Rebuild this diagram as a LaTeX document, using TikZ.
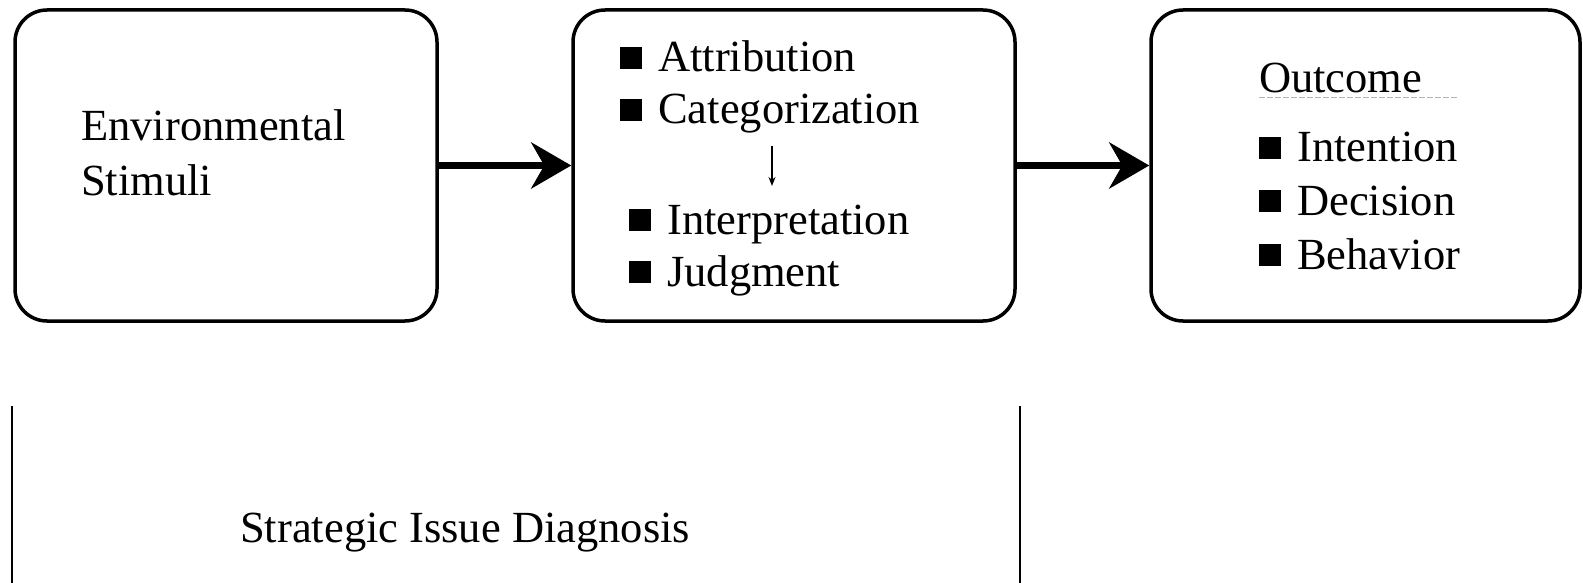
\documentclass[tikz,border=0pt]{standalone}
\usepackage{fontspec}
\setmainfont{Liberation Serif}
\usetikzlibrary{arrows.meta}
\newcommand{\sqb}{\raisebox{3pt}{\rule{22pt}{22pt}}\hspace{16pt}}
\begin{document}
\begin{tikzpicture}[x=1pt,y=-1pt,
  box/.style={draw,line width=3.5pt,rounded corners=32pt,inner sep=0pt},
  txt/.style={anchor=base west,inner sep=0pt,font=\fontsize{44.5}{50}\selectfont},
  bigarrow/.style={line width=7pt,-{Stealth[length=40pt,width=46pt,inset=13pt]}},
  smallarrow/.style={line width=1.5pt,-{Stealth[length=9pt,width=7pt]}}]
\useasboundingbox (0,0) rectangle (1583,583);
% boxes
\node[box,minimum width=422pt,minimum height=311pt] (env) at (226,165.5) {};
\node[box,minimum width=442pt,minimum height=311pt] (mid) at (794,165.5) {};
\node[box,minimum width=429pt,minimum height=311pt] (out) at (1365.5,165.5) {};
% left box text
\node[txt] (t1) at (81,141) {Environmental};
\node[txt] (t2) at (81,195) {Stimuli};
% middle box text
\node[txt] (m1) at (620,72) {\sqb Attribution};
\node[txt] (m2) at (620,124) {\sqb Categorization};
\node[txt] (m3) at (629,234) {\sqb Interpretation};
\node[txt] (m4) at (629,286) {\sqb Judgment};
\coordinate (s1) at (772,146);
\coordinate (s2) at (772,186);
\draw[smallarrow] (s1) -- (s2);
% right box text
\node[txt] (o0) at (1259,93) {Outcome};
\coordinate (u1) at (1259,97);
\coordinate (u2) at (1458,97);
\draw[gray!60,line width=0.8pt,dash pattern=on 6pt off 2pt] (u1) -- (u2);
\node[txt] (o1) at (1259,162) {\sqb Intention};
\node[txt] (o2) at (1259,215) {\sqb Decision};
\node[txt] (o3) at (1259,269) {\sqb Behavior};
% arrows
\draw[bigarrow] (env.east) -- (mid.west);
\draw[bigarrow] (mid.east) -- (out.west);
% bottom
\coordinate (l1) at (12,406);
\coordinate (l2) at (12,583);
\coordinate (r1) at (1020,406);
\coordinate (r2) at (1020,583);
\draw[line width=2pt] (l1) -- (l2);
\draw[line width=2pt] (r1) -- (r2);
\node[txt] (sid) at (240,542) {Strategic Issue Diagnosis};
\end{tikzpicture}
\end{document}
